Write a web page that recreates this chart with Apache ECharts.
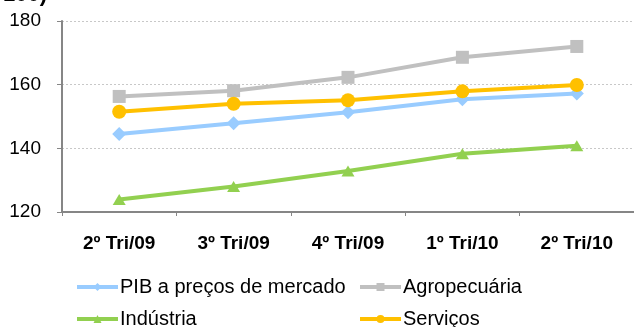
<!DOCTYPE html>
<html>
<head>
<meta charset="utf-8">
<script src="https://cdn.jsdelivr.net/npm/echarts@6/dist/echarts.min.js"></script>
<style>
  html, body { margin: 0; padding: 0; background: #fff; }
  #chart { width: 634px; height: 327px; }
</style>
</head>
<body>
<div id="chart"></div>
<script>
// Quarterly index values by sector
const quarters = ['2º Tri/09', '3º Tri/09', '4º Tri/09', '1º Tri/10', '2º Tri/10'];
const pib = [144.5, 147.9, 151.3, 155.4, 157.2];
const agropecuaria = [156.3, 158.1, 162.3, 168.6, 172.0];
const industria = [123.9, 128.0, 132.9, 138.3, 140.8];
const servicos = [151.5, 154.0, 155.1, 157.9, 159.9];
const yTicks = { min: 120, max: 180, step: 20 };

const FONT = '"Liberation Sans", Arial, sans-serif';
const chart = echarts.init(document.getElementById('chart'), null, { renderer: 'canvas' });

function lineSeries(name, data, color, symbol, size) {
  return {
    name, type: 'line', data,
    symbol, symbolSize: size,
    lineStyle: { color, width: 4 },
    itemStyle: { color },
    emphasis: { disabled: true },
    animation: false
  };
}

// one legend per entry so the two columns line up
function legendItem(left, top, name) {
  return {
    left, top, orient: 'horizontal',
    data: [name], itemWidth: 41, itemHeight: 10,
    lineStyle: { width: 4 },
    textStyle: { fontFamily: FONT, fontSize: 20, color: '#000', padding: [0, 0, 0, -3] },
    selectedMode: false
  };
}

chart.setOption({
  animation: false,
  backgroundColor: '#fff',
  graphic: [{
    type: 'text', left: 3, top: -16,
    style: { text: '100)', font: 'bold 22px ' + FONT, fill: '#000' }
  }],
  grid: { left: 62, right: 0, top: 21, bottom: 115 },
  xAxis: {
    type: 'category', data: quarters, boundaryGap: true,
    axisLine: { lineStyle: { color: '#868686', width: 2 } },
    axisTick: { show: true, length: 4, lineStyle: { color: '#868686', width: 1 } },
    axisLabel: { margin: 22, fontFamily: FONT, fontSize: 19, fontWeight: 'bold', color: '#000' }
  },
  yAxis: {
    type: 'value', min: yTicks.min, max: yTicks.max, interval: yTicks.step,
    axisLine: { show: true, lineStyle: { color: '#868686', width: 2 } },
    axisTick: { show: true, length: 5, lineStyle: { color: '#868686', width: 1 } },
    axisLabel: { margin: 21, fontFamily: FONT, fontSize: 19, color: '#000' },
    splitLine: { show: true, lineStyle: { color: '#c8c8c8', type: [2, 2], width: 1 } }
  },
  legend: [
    legendItem(70, 272, 'PIB a preços de mercado'),
    legendItem(353, 272, 'Agropecuária'),
    legendItem(70, 304, 'Indústria'),
    legendItem(353, 304, 'Serviços')
  ],
  series: [
    lineSeries('PIB a preços de mercado', pib, '#99ccff', 'diamond', 14),
    lineSeries('Agropecuária', agropecuaria, '#c0c0c0', 'rect', 13),
    lineSeries('Indústria', industria, '#92d050', 'triangle', [13, 11]),
    lineSeries('Serviços', servicos, '#ffc000', 'circle', 14)
  ]
});
</script>
</body>
</html>
